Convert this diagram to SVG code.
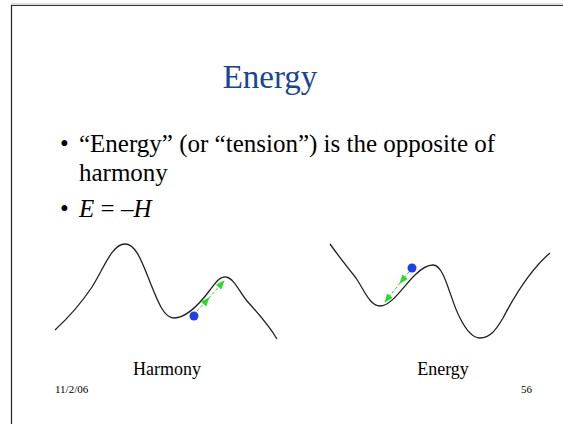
<svg xmlns="http://www.w3.org/2000/svg" width="563" height="424" viewBox="0 0 563 424">
<style>
.t{font-family:"Liberation Serif","Times New Roman",serif;fill:#000}
.curve{fill:none;stroke:#222;stroke-width:1.3}
.arr{fill:none;stroke:#22e022;stroke-width:1;stroke-dasharray:3,2}
.ball{fill:#1e3ee8}
</style>
<defs>
<marker id="ah" viewBox="0 0 10 10" refX="9" refY="5" markerWidth="9" markerHeight="9" markerUnits="userSpaceOnUse" orient="auto">
<path d="M0,1 L10,5 L0,9 Z" fill="#22e022"/>
</marker>
</defs>
<rect width="563" height="424" fill="#fff"/>
<line x1="11" y1="4" x2="563" y2="4" stroke="#bbb" stroke-width="1"/>
<line x1="11" y1="5.5" x2="563" y2="5.5" stroke="#333" stroke-width="1.2"/>
<line x1="11.5" y1="5" x2="11.5" y2="424" stroke="#222" stroke-width="1.2"/>
<g id="title"><text class="t" x="270" y="88" font-size="33" text-anchor="middle" style="fill:#17449c">Energy</text></g>
<g id="bullets">
<text class="t" x="60" y="152" font-size="25">•</text>
<text class="t" x="79" y="152" font-size="25">“Energy” (or “tension”) is the opposite of</text>
<text class="t" x="79" y="181" font-size="25">harmony</text>
<text class="t" x="60" y="217" font-size="25">•</text>
<text class="t" x="79" y="217" font-size="25"><tspan font-style="italic">E</tspan> = –<tspan font-style="italic">H</tspan></text>
</g>
<g id="harmony-curve">
<path class="curve" d="M55,330 C68,318 80,305 92,287 C104,268 112,244 125,244 C136,244 142,262 150,282 C158,302 164,318 174,318 C186,318 198,306 210,290 C216,282 220,276 226,277 C234,278 240,293 247,301 C256,311 268,324 277,339"/>
<circle class="ball" cx="194" cy="316" r="4.5"/>
</g>
<g id="energy-curve">
<path class="curve" d="M330,244 C340,258 348,268 356,278 C364,290 370,306 380,306 C392,306 405,284 415,275 C422,268 428,265 433,265 C445,265 450,300 460,318 C467,332 473,338 480,338 C490,338 496,330 503,318 C515,295 530,270 550,253"/>
<circle class="ball" cx="412" cy="268" r="4.5"/>
</g>
<g id="connectors">
<path class="arr" d="M197,311 L209,298" marker-end="url(#ah)"/>
<path class="arr" d="M209,298 L224,281" marker-end="url(#ah)"/>
<path class="arr" d="M409,272 L400,283" marker-end="url(#ah)"/>
<path class="arr" d="M400,283 L385,302" marker-end="url(#ah)"/>
</g>
<g id="labels">
<text class="t" x="167" y="375" font-size="18" text-anchor="middle">Harmony</text>
<text class="t" x="443" y="375" font-size="18" text-anchor="middle">Energy</text>
<text class="t" x="55" y="393" font-size="11">11/2/06</text>
<text class="t" x="532" y="393" font-size="11" text-anchor="end">56</text>
</g>
</svg>
